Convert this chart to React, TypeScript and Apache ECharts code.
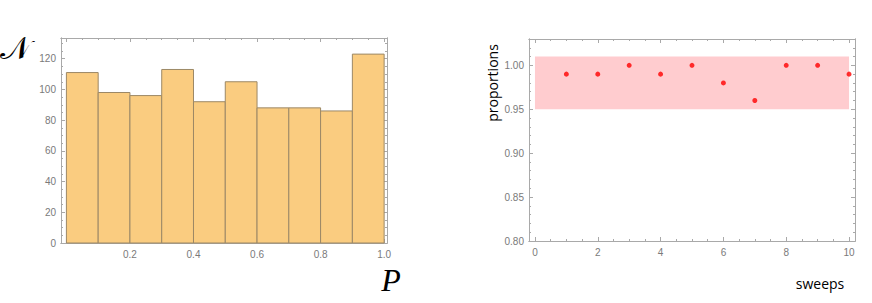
import React, { useEffect, useRef } from "react";
import * as echarts from "echarts";

// ---------- data ----------
const binEdges = [0, 0.1, 0.2, 0.3, 0.4, 0.5, 0.6, 0.7, 0.8, 0.9, 1.0];
const binCounts = [111, 98, 96, 113, 92, 105, 88, 88, 86, 123];
const histXTickLabels = [0.2, 0.4, 0.6, 0.8, 1.0];
const histYTickLabels = [0, 20, 40, 60, 80, 100, 120];

const sweepIndex = [1, 2, 3, 4, 5, 6, 7, 8, 9, 10];
const proportions = [0.99, 0.99, 1.0, 0.99, 1.0, 0.98, 0.96, 1.0, 1.0, 0.99];
const bandX = [0, 10];
const bandY = [0.95, 1.01];
const propXTickLabels = [0, 2, 4, 6, 8, 10];
const propYTickLabels = [0.8, 0.85, 0.9, 0.95, 1.0];

// ---------- helpers ----------
function steps(from: number, to: number, step: number): number[] {
  const r: number[] = [];
  const n = Math.round((to - from) / step);
  for (let i = 0; i <= n; i++) r.push(+(from + i * step).toFixed(6));
  return r;
}
function minorsOf(all: number[], majors: number[]): number[] {
  return all.filter((v) => !majors.some((m) => Math.abs(m - v) < 1e-9));
}

const frameColor = "#a9a9a9";
const labelColor = "#7a7a7a";

function axis(
  kind: "x" | "y",
  gridIndex: number,
  position: string,
  min: number,
  max: number,
  ticks: number[],
  len: number,
  labels?: number[],
  fmt?: (v: number) => string
): any {
  return {
    type: "value",
    gridIndex,
    position,
    min,
    max,
    axisLine: { show: true, onZero: false, lineStyle: { color: frameColor, width: 1 } },
    axisTick: {
      show: true,
      inside: true,
      length: len,
      customValues: ticks,
      lineStyle: { color: frameColor, width: 1 },
    },
    axisLabel: labels
      ? {
          show: true,
          customValues: labels,
          formatter: fmt,
          color: labelColor,
          fontSize: 10,
          fontFamily: "Liberation Sans",
          margin: kind === "x" ? 6 : 5,
        }
      : { show: false },
    splitLine: { show: false },
  };
}

export default function App() {
  const ref = useRef<HTMLDivElement>(null);

  useEffect(() => {
    if (!ref.current) return;
    const chart = echarts.init(ref.current, undefined, { renderer: "svg" });

    // histogram ranges
    const hx = [-0.017, 1.009];
    const hy = [0, 133.5];
    const hxMaj = steps(0, 1, 0.2);
    const hxMin = minorsOf(steps(0, 1, 0.05), hxMaj);
    const hyMaj = steps(0, 120, 20);
    const hyMin = minorsOf(steps(0, 130, 5), hyMaj);

    // proportions ranges
    const px = [-0.19, 10.19];
    const py = [0.8, 1.03];
    const pxMaj = steps(0, 10, 2);
    const pxMin = minorsOf(steps(0, 10, 0.5), pxMaj);
    const pyMaj = steps(0.8, 1.0, 0.05);
    const pyMin = minorsOf(steps(0.8, 1.03, 0.01), pyMaj);

    const histGrid = { left: 61, top: 38, width: 326, height: 205 };
    const propGrid = { left: 529, top: 39, width: 326, height: 202 };

    const option: any = {
      animation: false,
      backgroundColor: "#ffffff",
      grid: [histGrid, histGrid, propGrid, propGrid].map((g) => ({ ...g, containLabel: false })),
      xAxis: [
        axis("x", 0, "bottom", hx[0], hx[1], hxMaj, 4, histXTickLabels, (v) => v.toFixed(1)),
        axis("x", 0, "top", hx[0], hx[1], hxMaj, 4),
        axis("x", 1, "bottom", hx[0], hx[1], hxMin, 2),
        axis("x", 1, "top", hx[0], hx[1], hxMin, 2),
        axis("x", 2, "bottom", px[0], px[1], pxMaj, 4, propXTickLabels, (v) => String(v)),
        axis("x", 2, "top", px[0], px[1], pxMaj, 4),
        axis("x", 3, "bottom", px[0], px[1], pxMin, 2),
        axis("x", 3, "top", px[0], px[1], pxMin, 2),
      ],
      yAxis: [
        axis("y", 0, "left", hy[0], hy[1], hyMaj, 4, histYTickLabels, (v) => String(v)),
        axis("y", 0, "right", hy[0], hy[1], hyMaj, 4),
        axis("y", 1, "left", hy[0], hy[1], hyMin, 2),
        axis("y", 1, "right", hy[0], hy[1], hyMin, 2),
        axis("y", 2, "left", py[0], py[1], pyMaj, 4, propYTickLabels, (v) => v.toFixed(2)),
        axis("y", 2, "right", py[0], py[1], pyMaj, 4),
        axis("y", 3, "left", py[0], py[1], pyMin, 2),
        axis("y", 3, "right", py[0], py[1], pyMin, 2),
      ],
      series: [
        {
          type: "custom",
          xAxisIndex: 0,
          yAxisIndex: 0,
          encode: { x: [0, 1], y: 2 },
          data: binCounts.map((c, i) => [binEdges[i], binEdges[i + 1], c]),
          renderItem: (params: any, api: any) => {
            const p0 = api.coord([api.value(0), api.value(2)]);
            const p1 = api.coord([api.value(1), 0]);
            return {
              type: "rect",
              shape: { x: p0[0], y: p0[1], width: p1[0] - p0[0], height: p1[1] - p0[1] },
              style: { fill: "#facc80", stroke: "#9c8866", lineWidth: 1 },
            };
          },
          silent: true,
        },
        {
          type: "scatter",
          xAxisIndex: 4,
          yAxisIndex: 4,
          symbol: "circle",
          symbolSize: 5,
          itemStyle: { color: "#ff0000" },
          data: sweepIndex.map((s, i) => [s, proportions[i]]),
          markArea: {
            silent: true,
            itemStyle: { color: "#ffcccf" },
            data: [[{ coord: [bandX[0], bandY[0]] }, { coord: [bandX[1], bandY[1]] }]],
          },
          silent: true,
        },
      ],
      graphic: [
        {
          type: "text",
          left: 0,
          top: 32,
          style: {
            text: "𝒩",
            fontSize: 32,
            fontFamily: "DejaVu Serif",
            fill: "#000",
          },
        },
        {
          type: "text",
          x: 391,
          y: 280,
          style: {
            text: "P",
            fontSize: 32,
            fontStyle: "italic",
            fontFamily: "Liberation Serif",
            fill: "#000",
            align: "center",
            verticalAlign: "middle",
          },
        },
        {
          type: "text",
          x: 492,
          y: 83,
          rotation: Math.PI / 2,
          style: {
            text: "proportions",
            fontSize: 14,
            fontFamily: "Open Sans",
            fill: "#000",
            align: "center",
            verticalAlign: "middle",
          },
        },
        {
          type: "text",
          x: 820,
          y: 283,
          style: {
            text: "sweeps",
            fontSize: 14,
            fontFamily: "Open Sans",
            fill: "#000",
            align: "center",
            verticalAlign: "middle",
          },
        },
      ],
    };

    chart.setOption(option);
    return () => chart.dispose();
  }, []);

  return (
    <div
      ref={ref}
      style={{ position: "fixed", left: 0, top: 0, width: 872, height: 303, background: "#fff" }}
    />
  );
}
